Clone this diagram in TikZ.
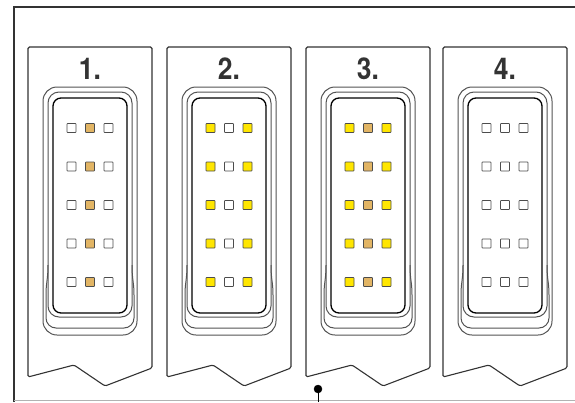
\documentclass[tikz,border=0pt]{standalone}
\usepackage{fontspec}
\newfontfamily\numfont[FakeStretch=0.88]{TeX Gyre Heros}
\definecolor{pintan}{HTML}{E2B565}
\definecolor{pinyel}{HTML}{FFE600}
\definecolor{linegray}{HTML}{333333}
\tikzset{
  tab/.style={draw=linegray, line width=1.1pt, rounded corners=1.5pt},
  gasket/.style={draw=gray!65!black, line width=1pt},
  socket/.style={draw=black, line width=1.3pt},
  pin/.style={draw=gray!60!black, line width=0.8pt, rounded corners=0.6pt},
  number/.style={font=\numfont\bfseries\fontsize{30}{30}\selectfont, text=linegray}
}
\begin{document}
\begin{tikzpicture}[x=1pt,y=-1pt]
   \useasboundingbox (0,0) rectangle (575,402);
   % frame
   \draw[linegray, line width=2pt] (14,402) -- (14,7) -- (575,7);
   \draw[gray!60, line width=1pt] (14,400.5) -- (575,400.5);
   % the four tabs
   \foreach \n/\x/\ca/\cb/\cc in {1/28/white/pintan/white, 2/167/pinyel/white/pinyel,
                                   3/306/pinyel/pintan/pinyel, 4/443/white/white/white}{
     \draw[tab] (\x,377) -- (\x,47) -- (\x+124,47) -- (\x+124,368)
        -- (\x+77,386) -- (\x+46,365) -- cycle;
     \node[number] (num\n) at (\x+62,68.5) {\n.};
     \draw[gasket, rounded corners=14pt] (\x+15,87) rectangle (\x+109,335);
     \draw[gasket, rounded corners=11pt] (\x+20,92) rectangle (\x+104,317);
     \draw[gasket] (\x+20,265) .. controls (\x+20,280) and (\x+18,282) .. (\x+18,295)
        -- (\x+18,318) arc[start angle=180, end angle=90, radius=10]
        -- (\x+96,328) arc[start angle=90, end angle=0, radius=10]
        -- (\x+106,295) .. controls (\x+106,282) and (\x+104,280) .. (\x+104,265);
     \draw[socket, rounded corners=8pt] (\x+25,98) rectangle (\x+99,313);
     \foreach \y in {128,166.5,205,243.5,282}{
       \draw[pin, fill=\ca] (\x+39,\y-4.5) rectangle (\x+48,\y+4.5);
       \draw[pin, fill=\cb] (\x+57.5,\y-4.5) rectangle (\x+66.5,\y+4.5);
       \draw[pin, fill=\cc] (\x+76,\y-4.5) rectangle (\x+85,\y+4.5);
     }
   }
   % marker
   \coordinate (foot) at (318,402);
   \coordinate (dot) at (318,389);
   \draw[black, line width=1pt] (foot) -- (dot);
   \draw[fill=black] (dot) circle(4);
\end{tikzpicture}
\end{document}
